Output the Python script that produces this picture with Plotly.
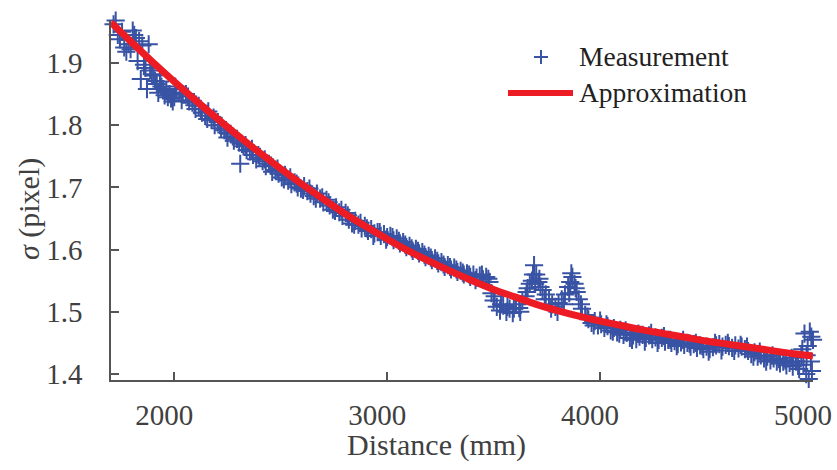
import plotly.graph_objects as go

# Approximation curve
approx_x = [1703, 1800, 1900, 2000, 2100, 2200, 2300, 2400, 2500, 2600, 2700, 2800, 2900,
            3000, 3100, 3200, 3300, 3400, 3500, 3600, 3700, 3800, 3900, 4000, 4100, 4200,
            4300, 4400, 4500, 4600, 4700, 4800, 4900, 5000]
approx_y = [1.965, 1.933, 1.901, 1.870, 1.840, 1.811, 1.783, 1.756, 1.730, 1.705, 1.681,
            1.658, 1.637, 1.617, 1.598, 1.581, 1.565, 1.550, 1.536, 1.524, 1.512, 1.502,
            1.493, 1.485, 1.478, 1.471, 1.465, 1.459, 1.453, 1.448, 1.443, 1.438, 1.433, 1.429]

meas_x = [1710, 1715, 1725, 1735, 1745, 1755, 1765, 1775, 1785, 1795, 1805, 1812, 1820, 1828,
          1835, 1843, 1850, 1858, 1865, 1872, 1880, 1887, 1895, 1903, 1910, 1918, 1925, 1933,
          1940, 1948, 1955, 1963, 1970, 1978, 1985, 1993, 2000,
          2010, 2025, 2040, 2055, 2070, 2085, 2100, 2115, 2130, 2145, 2160, 2175, 2190, 2205,
          2220, 2235, 2250, 2265, 2280, 2295, 2310, 2318, 2325, 2340, 2355, 2370, 2385, 2400,
          2415, 2430, 2445, 2460, 2475, 2490, 2505, 2520, 2535, 2550, 2565, 2580, 2595, 2610,
          2625, 2640, 2655, 2670, 2685, 2700, 2715, 2730, 2745, 2760, 2775, 2790, 2805, 2820,
          2835, 2850, 2865, 2880, 2895, 2910, 2925, 2940, 2955, 2970, 2985, 3000, 3015, 3030,
          3045, 3060, 3075, 3090, 3105, 3120, 3135, 3150, 3165, 3180, 3195, 3210, 3225, 3240,
          3255, 3270, 3285, 3300, 3315, 3330, 3345, 3360, 3375, 3390, 3405, 3420, 3435, 3450,
          3465, 3480, 3490, 3500, 3515, 3530, 3545, 3560, 3575, 3590, 3605, 3620, 3635, 3650,
          3660, 3670, 3680, 3690, 3700, 3710, 3720, 3730, 3745, 3760, 3775, 3790, 3805, 3820,
          3835, 3850, 3860, 3870, 3880, 3890, 3900, 3915, 3930, 3945, 3960, 3975, 3990, 4005,
          4020, 4035, 4050, 4065, 4080, 4095, 4110, 4125, 4140, 4155, 4170, 4185, 4200, 4215,
          4230, 4245, 4260, 4275, 4290, 4305, 4320, 4335, 4350, 4365, 4380, 4395, 4410, 4425,
          4440, 4455, 4470, 4485, 4500, 4515, 4530, 4545, 4560, 4575, 4590, 4605, 4620, 4635,
          4650, 4665, 4680, 4695, 4710, 4725, 4740, 4755, 4770, 4785, 4800, 4815, 4830, 4845,
          4860, 4875, 4890, 4905, 4920, 4935, 4945, 4955, 4960, 4968, 4975, 4980, 4985, 4990,
          4995, 5000, 5005, 5010, 5015, 5020, 5025, 5030,
          2005, 2035, 2065, 2095, 2125, 2155, 2185, 2215, 2245, 2275, 2305, 2335, 2365, 2395,
          2425, 2455, 2485, 2515, 2545, 2575, 2605, 2635, 2665, 2695, 2725, 2755, 2785, 2815,
          2845, 2875, 2905, 2935, 2965, 2995, 3025, 3055, 3085, 3115, 3145, 3175, 3205, 3235,
          3265, 3295, 3325, 3355, 3385, 3415, 3445, 3475, 3505, 3535, 3565, 3595, 3625, 3655,
          3685, 3695, 3715, 3740, 3770, 3800, 3830, 3855, 3865, 3885, 3910, 3940, 3970, 4000,
          4030, 4060, 4090, 4120, 4150, 4180, 4210, 4240, 4270, 4300, 4330, 4360, 4390, 4420,
          4450, 4480, 4510, 4540, 4570, 4600, 4630, 4660, 4690, 4720, 4750, 4780, 4810, 4840,
          4870, 4900, 4930, 4950, 4970, 4992, 5012]
meas_y = [1.976, 1.962, 1.968, 1.945, 1.938, 1.950, 1.925, 1.918, 1.930, 1.922, 1.952, 1.945,
          1.940, 1.903, 1.935, 1.874, 1.928, 1.897, 1.892, 1.858, 1.930, 1.888, 1.882, 1.880,
          1.871, 1.866, 1.852, 1.870, 1.862, 1.858, 1.848, 1.855, 1.845, 1.850, 1.843, 1.838,
          1.845,
          1.858, 1.852, 1.849, 1.850, 1.838, 1.836, 1.826, 1.831, 1.820, 1.815, 1.822, 1.808,
          1.800, 1.805, 1.795, 1.792, 1.780, 1.786, 1.775, 1.778, 1.738, 1.770, 1.766, 1.760,
          1.758, 1.752, 1.745, 1.748, 1.742, 1.734, 1.738, 1.725, 1.728, 1.722, 1.716, 1.720,
          1.711, 1.705, 1.708, 1.700, 1.698, 1.702, 1.694, 1.690, 1.686, 1.690, 1.682, 1.676,
          1.680, 1.671, 1.664, 1.668, 1.660, 1.654, 1.659, 1.648, 1.642, 1.646, 1.640, 1.634,
          1.638, 1.630, 1.633, 1.626, 1.628, 1.622, 1.625, 1.620, 1.622, 1.615, 1.618, 1.610,
          1.612, 1.604, 1.606, 1.598, 1.601, 1.594, 1.596, 1.588, 1.590, 1.583, 1.586, 1.578,
          1.580, 1.572, 1.575, 1.568, 1.571, 1.564, 1.566, 1.560, 1.562, 1.556, 1.560, 1.555,
          1.558, 1.552, 1.556, 1.548, 1.530, 1.518, 1.508, 1.502, 1.510, 1.500, 1.505, 1.498,
          1.512, 1.506, 1.518, 1.525, 1.538, 1.545, 1.550, 1.575, 1.560, 1.548, 1.540, 1.535,
          1.528, 1.520, 1.512, 1.508, 1.514, 1.520, 1.528, 1.540, 1.548, 1.556, 1.545, 1.532,
          1.520, 1.505, 1.495, 1.488, 1.482, 1.485, 1.478, 1.480, 1.474, 1.477, 1.470, 1.474,
          1.467, 1.471, 1.463, 1.466, 1.458, 1.462, 1.456, 1.460, 1.463, 1.458, 1.462, 1.456,
          1.459, 1.455, 1.458, 1.452, 1.455, 1.450, 1.453, 1.448, 1.451, 1.447, 1.450, 1.444,
          1.448, 1.442, 1.446, 1.440, 1.444, 1.440, 1.443, 1.446, 1.448, 1.444, 1.447, 1.445,
          1.442, 1.446, 1.441, 1.444, 1.440, 1.437, 1.432, 1.435, 1.428, 1.430, 1.425, 1.428,
          1.422, 1.425, 1.420, 1.417, 1.420, 1.414, 1.418, 1.412, 1.420, 1.408, 1.430, 1.415,
          1.465, 1.400, 1.445, 1.392, 1.468, 1.420, 1.405, 1.455, 1.395, 1.440, 1.425, 1.430,
          1.418, 1.422,
          1.862, 1.840, 1.846, 1.832, 1.826, 1.810, 1.812, 1.800, 1.788, 1.782, 1.772, 1.768,
          1.762, 1.752, 1.745, 1.735, 1.730, 1.713, 1.716, 1.706, 1.696, 1.698, 1.682, 1.684,
          1.676, 1.662, 1.664, 1.655, 1.640, 1.643, 1.634, 1.622, 1.628, 1.616, 1.620, 1.614,
          1.608, 1.602, 1.598, 1.592, 1.587, 1.582, 1.576, 1.572, 1.568, 1.563, 1.560, 1.551,
          1.560, 1.553, 1.525, 1.512, 1.508, 1.505, 1.500, 1.532, 1.560, 1.545, 1.553, 1.520,
          1.505, 1.500, 1.512, 1.530, 1.562, 1.538, 1.512, 1.492, 1.478, 1.486, 1.480, 1.468,
          1.465, 1.470, 1.455, 1.465, 1.452, 1.466, 1.450, 1.461, 1.455, 1.445, 1.455, 1.449,
          1.450, 1.445, 1.436, 1.450, 1.438, 1.450, 1.437, 1.447, 1.444, 1.428, 1.436, 1.420,
          1.430, 1.424, 1.422, 1.426, 1.415, 1.440, 1.430, 1.460, 1.410]

x_ticks = [2000, 3000, 4000, 5000]
y_ticks = [1.4, 1.5, 1.6, 1.7, 1.8, 1.9]

BLUE = "#3953A4"
RED = "#ED1C24"
TXT = "#404040"
AX = "#555555"
FONT = "Liberation Serif, Times New Roman, serif"

W, H = 837, 470
ML, MR, MT, MB = 111, 24, 20, 90
PW, PH = W - ML - MR, H - MT - MB

def px(x):
    return (x - ML) / PW

def py(y):
    return (H - MB - y) / PH

fig = go.Figure()
fig.add_trace(go.Scatter(
    x=meas_x, y=meas_y, mode="markers", name="Measurement",
    marker=dict(symbol="cross-thin", size=13, line=dict(width=2, color=BLUE), color=BLUE),
    cliponaxis=False, showlegend=False))
fig.add_trace(go.Scatter(
    x=approx_x, y=approx_y, mode="lines", name="Approximation",
    line=dict(color=RED, width=7, shape="spline"), cliponaxis=False, showlegend=False))

tick_font = dict(family=FONT, size=29, color=TXT)

fig.update_layout(
    width=W, height=H, margin=dict(l=ML, r=MR, t=MT, b=MB),
    paper_bgcolor="white", plot_bgcolor="white",
    font=dict(family=FONT, size=28, color=TXT),
    xaxis=dict(range=[1703, 5000], tickvals=x_ticks, ticks="inside", ticklen=8, tickwidth=1.5,
               tickcolor=AX, showline=True, linecolor=AX, linewidth=1.5, showgrid=False,
               zeroline=False, ticklabelstandoff=8, ticklabelshift=-10, tickfont=tick_font,
               ticklabeloverflow="allow", automargin=False),
    yaxis=dict(range=[1.3904, 1.969], tickvals=y_ticks, tickformat=".1f", ticks="inside",
               ticklen=8, tickwidth=1.5, tickcolor=AX, showline=True, linecolor=AX,
               linewidth=1.5, showgrid=False, zeroline=False, ticklabelstandoff=21,
               tickfont=tick_font, ticklabeloverflow="allow", automargin=False),
    annotations=[
        dict(text="Distance (mm)", xref="paper", yref="paper", x=px(436), y=py(445),
             showarrow=False, xanchor="center", yanchor="middle",
             font=dict(size=30, color=TXT, family=FONT)),
        dict(text="<i>σ</i> (pixel)", xref="paper", yref="paper", x=px(29), y=py(209),
             showarrow=False, xanchor="center", yanchor="middle", textangle=-90,
             font=dict(size=30, color=TXT, family=FONT)),
        dict(text="Measurement", xref="paper", yref="paper", x=px(577), y=py(57),
             showarrow=False, xanchor="left", yanchor="middle",
             font=dict(size=27.5, color="#222222", family=FONT)),
        dict(text="Approximation", xref="paper", yref="paper", x=px(577), y=py(93),
             showarrow=False, xanchor="left", yanchor="middle",
             font=dict(size=27.5, color="#222222", family=FONT)),
    ],
    shapes=[
        dict(type="line", xref="paper", yref="paper", x0=px(508), x1=px(573), y0=py(93), y1=py(93),
             line=dict(color=RED, width=6)),
        dict(type="line", xref="paper", yref="paper", x0=px(534), x1=px(548), y0=py(57), y1=py(57),
             line=dict(color=BLUE, width=2)),
        dict(type="line", xref="paper", yref="paper", x0=px(541), x1=px(541), y0=py(50), y1=py(64),
             line=dict(color=BLUE, width=2)),
    ],
)

fig.write_html("out.html")
